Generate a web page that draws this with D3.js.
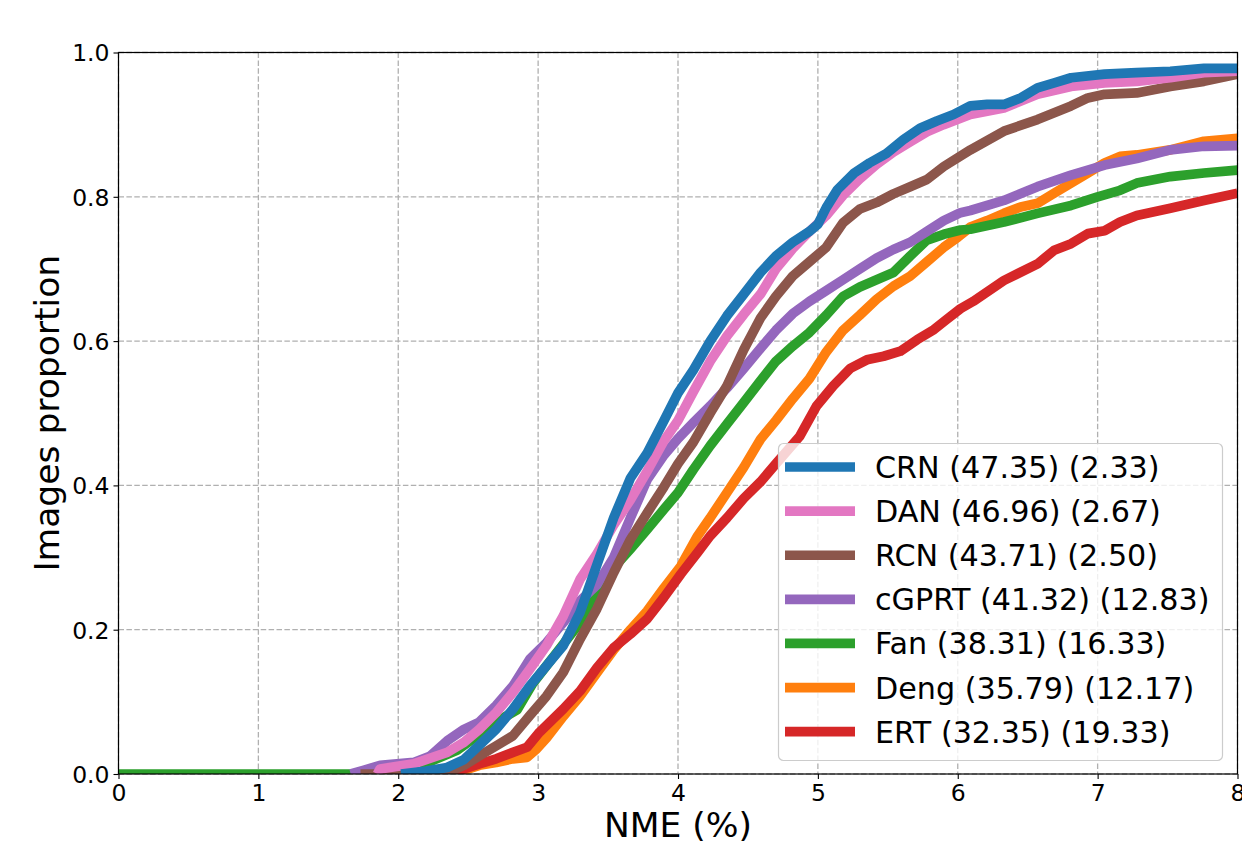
<!DOCTYPE html>
<html>
<head>
<meta charset="utf-8">
<script src="https://cdn.jsdelivr.net/npm/d3@7"></script>
<style>
  html, body { margin: 0; padding: 0; background: #fff; }
  svg { display: block; font-family: "DejaVu Sans", sans-serif; }
</style>
</head>
<body>
<svg id="chart" width="1242" height="846"></svg>
<script>
// ---- data (NME %, proportion of images) ----
const xTicks = [0, 1, 2, 3, 4, 5, 6, 7, 8];
const yTicks = [0, 0.2, 0.4, 0.6, 0.8, 1.0];
const xLabel = "NME (%)";
const yLabel = "Images proportion";

const CRN = [[2.02,0],[2.2,0.004],[2.35,0.009],[2.47,0.02],[2.58,0.04],[2.7,0.062],[2.82,0.09],[2.94,0.122],[3.06,0.15],[3.18,0.178],[3.3,0.224],[3.42,0.29],[3.54,0.355],[3.66,0.41],[3.78,0.445],[3.9,0.49],[4.0,0.528],[4.11,0.56],[4.23,0.6],[4.35,0.635],[4.47,0.665],[4.59,0.695],[4.7,0.718],[4.82,0.737],[4.94,0.752],[5.0,0.762],[5.06,0.785],[5.14,0.81],[5.26,0.833],[5.37,0.847],[5.49,0.86],[5.61,0.879],[5.73,0.895],[5.85,0.905],[5.97,0.914],[6.09,0.926],[6.21,0.928],[6.33,0.928],[6.45,0.937],[6.57,0.951],[6.69,0.958],[6.81,0.965],[7.05,0.97],[7.28,0.972],[7.52,0.974],[7.76,0.978],[8.0,0.978]];
const DAN = [[1.85,0],[1.87,0.007],[2.11,0.014],[2.35,0.03],[2.47,0.044],[2.58,0.062],[2.7,0.085],[2.82,0.113],[2.94,0.145],[3.06,0.178],[3.18,0.219],[3.3,0.27],[3.42,0.305],[3.54,0.345],[3.66,0.38],[3.78,0.42],[3.9,0.462],[4.0,0.49],[4.11,0.53],[4.23,0.572],[4.35,0.607],[4.47,0.637],[4.59,0.665],[4.7,0.7],[4.82,0.728],[4.94,0.752],[5.06,0.774],[5.18,0.802],[5.3,0.825],[5.42,0.845],[5.54,0.862],[5.66,0.876],[5.78,0.89],[5.9,0.9],[6.09,0.914],[6.33,0.923],[6.57,0.942],[6.81,0.953],[7.05,0.958],[7.28,0.96],[7.52,0.965],[7.76,0.972],[8.0,0.974]];
const RCN = [[1.73,0],[2.2,0],[2.35,0.002],[2.47,0.012],[2.58,0.025],[2.7,0.039],[2.82,0.053],[2.94,0.081],[3.06,0.108],[3.18,0.141],[3.3,0.187],[3.42,0.229],[3.54,0.279],[3.66,0.325],[3.78,0.362],[3.9,0.398],[4.0,0.43],[4.11,0.46],[4.23,0.5],[4.35,0.538],[4.47,0.588],[4.59,0.632],[4.7,0.662],[4.82,0.69],[4.94,0.71],[5.06,0.73],[5.18,0.764],[5.3,0.783],[5.42,0.792],[5.54,0.804],[5.66,0.814],[5.78,0.824],[5.9,0.842],[6.09,0.865],[6.33,0.891],[6.57,0.907],[6.81,0.926],[6.93,0.937],[7.05,0.942],[7.28,0.944],[7.52,0.953],[7.76,0.96],[8.0,0.97]];
const cGPRT = [[1.66,0],[1.75,0.005],[1.87,0.012],[2.11,0.016],[2.23,0.025],[2.35,0.046],[2.47,0.062],[2.58,0.072],[2.7,0.095],[2.82,0.122],[2.94,0.159],[3.06,0.182],[3.18,0.21],[3.3,0.24],[3.42,0.262],[3.54,0.3],[3.66,0.355],[3.78,0.408],[3.9,0.442],[4.0,0.465],[4.11,0.487],[4.23,0.51],[4.35,0.535],[4.47,0.562],[4.59,0.59],[4.7,0.615],[4.82,0.638],[4.94,0.655],[5.06,0.67],[5.18,0.685],[5.3,0.7],[5.42,0.715],[5.54,0.727],[5.66,0.737],[5.78,0.752],[5.9,0.767],[6.02,0.778],[6.09,0.781],[6.33,0.795],[6.57,0.814],[6.81,0.83],[7.05,0.844],[7.28,0.853],[7.52,0.865],[7.76,0.87],[8.0,0.871]];
const Fan = [[0,0],[1.66,0],[2.0,0.005],[2.2,0.015],[2.42,0.033],[2.58,0.055],[2.7,0.072],[2.85,0.089],[2.96,0.125],[3.06,0.15],[3.18,0.18],[3.3,0.21],[3.42,0.25],[3.54,0.286],[3.66,0.312],[3.78,0.339],[3.9,0.367],[4.0,0.39],[4.11,0.422],[4.23,0.455],[4.35,0.485],[4.47,0.515],[4.59,0.545],[4.7,0.572],[4.82,0.593],[4.94,0.612],[5.06,0.636],[5.18,0.662],[5.3,0.675],[5.42,0.685],[5.54,0.695],[5.66,0.718],[5.78,0.74],[5.9,0.748],[6.02,0.754],[6.09,0.755],[6.33,0.765],[6.57,0.777],[6.81,0.788],[7.0,0.8],[7.16,0.809],[7.28,0.819],[7.52,0.828],[7.76,0.833],[8.0,0.837]];
const Deng = [[2.42,0],[2.47,0.005],[2.58,0.012],[2.7,0.016],[2.82,0.021],[2.92,0.023],[2.99,0.035],[3.06,0.05],[3.18,0.08],[3.3,0.108],[3.42,0.14],[3.54,0.172],[3.66,0.2],[3.78,0.226],[3.9,0.258],[4.02,0.288],[4.14,0.33],[4.23,0.355],[4.35,0.39],[4.47,0.425],[4.59,0.464],[4.7,0.49],[4.82,0.52],[4.94,0.548],[5.06,0.585],[5.18,0.615],[5.3,0.636],[5.42,0.658],[5.54,0.676],[5.66,0.69],[5.78,0.71],[5.9,0.73],[6.0,0.744],[6.09,0.758],[6.21,0.767],[6.33,0.777],[6.45,0.786],[6.57,0.791],[6.69,0.805],[6.81,0.819],[6.93,0.833],[7.05,0.847],[7.16,0.856],[7.28,0.858],[7.52,0.865],[7.76,0.877],[8.0,0.881]];
const ERT = [[2.35,0],[2.47,0.007],[2.58,0.014],[2.7,0.021],[2.82,0.03],[2.92,0.037],[3.01,0.058],[3.18,0.09],[3.3,0.115],[3.42,0.147],[3.54,0.175],[3.66,0.194],[3.78,0.215],[3.9,0.245],[4.02,0.277],[4.14,0.307],[4.23,0.33],[4.35,0.355],[4.47,0.382],[4.59,0.405],[4.7,0.43],[4.87,0.468],[4.99,0.51],[5.11,0.538],[5.23,0.562],[5.35,0.574],[5.47,0.579],[5.59,0.586],[5.71,0.602],[5.83,0.616],[5.92,0.63],[6.02,0.645],[6.11,0.655],[6.33,0.684],[6.57,0.707],[6.69,0.726],[6.81,0.735],[6.93,0.749],[7.05,0.753],[7.16,0.765],[7.28,0.774],[7.52,0.784],[7.76,0.795],[8.0,0.805]];

const legendNames = ["CRN (47.35) (2.33)", "DAN (46.96) (2.67)", "RCN (43.71) (2.50)", "cGPRT (41.32) (12.83)", "Fan (38.31) (16.33)", "Deng (35.79) (12.17)", "ERT (32.35) (19.33)"];
const seriesData = [CRN, DAN, RCN, cGPRT, Fan, Deng, ERT];
const colors = ["#1f77b4", "#e377c2", "#8c564b", "#9467bd", "#2ca02c", "#ff7f0e", "#d62728"];
const drawOrder = [5, 6, 4, 3, 2, 1, 0]; // Deng, ERT, Fan, cGPRT, RCN, DAN, CRN

// ---- layout ----
const pLeft = 118.5, pRight = 1237.5, pTop = 52.5, pBottom = 774;
const svg = d3.select("#chart");
const x = d3.scaleLinear().domain([0, 8]).range([pLeft, pRight]);
const y = d3.scaleLinear().domain([0, 1]).range([pBottom, pTop]);

// grid
const grid = svg.append("g");
grid.selectAll("line.vx").data(xTicks).join("line")
  .attr("x1", d => x(d)).attr("x2", d => x(d)).attr("y1", pTop).attr("y2", pBottom)
  .attr("stroke", "#b0b0b0").attr("stroke-width", 1.3).attr("stroke-dasharray", "5.5,2.4");
grid.selectAll("line.hy").data(yTicks).join("line")
  .attr("y1", d => y(d)).attr("y2", d => y(d)).attr("x1", pLeft).attr("x2", pRight)
  .attr("stroke", "#b0b0b0").attr("stroke-width", 1.3).attr("stroke-dasharray", "5.5,2.4");

// clip
svg.append("defs").append("clipPath").attr("id", "plotclip")
  .append("rect").attr("x", pLeft).attr("y", pTop).attr("width", pRight - pLeft).attr("height", pBottom - pTop);

const line = d3.line().x(d => x(d[0])).y(d => y(d[1]));
const curves = svg.append("g").attr("clip-path", "url(#plotclip)");
drawOrder.forEach(i => {
  curves.append("path").datum(seriesData[i])
    .attr("d", line).attr("fill", "none").attr("stroke", colors[i])
    .attr("stroke-width", 9.7).attr("stroke-linejoin", "round").attr("stroke-linecap", "butt");
});

// axes
const xAxis = d3.axisBottom(x).tickValues(xTicks).tickFormat(d3.format("d")).tickSize(5).tickPadding(4);
const yAxis = d3.axisLeft(y).tickValues(yTicks).tickFormat(d3.format(".1f")).tickSize(5).tickPadding(4);
const gx = svg.append("g").attr("transform", `translate(0,${pBottom})`).call(xAxis);
const gy = svg.append("g").attr("transform", `translate(${pLeft},0)`).call(yAxis);
[gx, gy].forEach(g => {
  g.select(".domain").remove();
  g.selectAll(".tick line").attr("stroke", "#000").attr("stroke-width", 1.1);
  g.selectAll(".tick text").attr("fill", "#000").style("font-size", "23.5px").style("font-family", "DejaVu Sans");
});
gx.selectAll(".tick text").attr("dy", "0.78em");
gy.selectAll(".tick text").attr("dy", "0.36em");

// spines
svg.append("rect").attr("x", pLeft).attr("y", pTop).attr("width", pRight - pLeft).attr("height", pBottom - pTop)
  .attr("fill", "none").attr("stroke", "#000").attr("stroke-width", 1.2);

// labels
svg.append("text").attr("x", (pLeft + pRight) / 2).attr("y", 836.5).attr("text-anchor", "middle")
  .style("font-size", "34.5px").attr("fill", "#000").text(xLabel);
svg.append("text").attr("transform", `translate(59,${(pTop + pBottom) / 2}) rotate(-90)`).attr("text-anchor", "middle")
  .style("font-size", "34.5px").attr("fill", "#000").text(yLabel);

// legend
const lg = svg.append("g");
lg.append("rect").attr("x", 778.5).attr("y", 443.5).attr("width", 444).attr("height", 317).attr("rx", 5)
  .attr("fill", "#fff").attr("fill-opacity", 0.8).attr("stroke", "#cccccc").attr("stroke-width", 1.2);
const rowY = d3.scaleLinear().domain([0, 6]).range([467, 731.7]);
legendNames.forEach((name, i) => {
  lg.append("line").attr("x1", 785).attr("x2", 855).attr("y1", rowY(i)).attr("y2", rowY(i))
    .attr("stroke", colors[i]).attr("stroke-width", 9.7);
  lg.append("text").attr("x", 875).attr("y", rowY(i) + 11)
    .style("font-size", "30.2px").attr("fill", "#000").text(name);
});
</script>
</body>
</html>
